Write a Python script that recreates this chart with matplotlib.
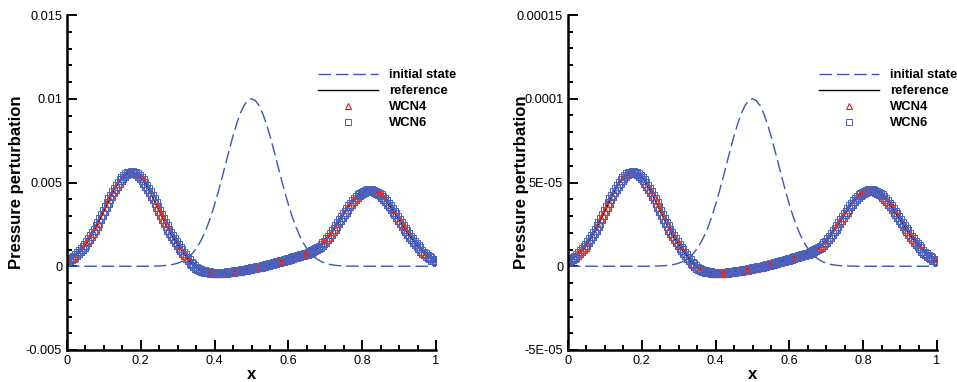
import matplotlib
matplotlib.use("Agg")
import matplotlib.pyplot as plt
import numpy as np
from matplotlib.ticker import FixedLocator, FixedFormatter, MultipleLocator

plt.rcParams["font.family"] = ["Liberation Sans", "DejaVu Sans"]

# ---------------------------------------------------------------- data
# final pressure perturbation (left panel units), x = 0 .. 1 step 0.005
# reference, WCN4 and WCN6 coincide in the picture
p_final = [
    0.000312, 0.000367, 0.000430, 0.000501, 0.000581, 0.000672, 0.000772, 0.000883, 0.001005, 0.001139,
    0.001284, 0.001441, 0.001610, 0.001790, 0.001981, 0.002182, 0.002392, 0.002610, 0.002834, 0.003063,
    0.003296, 0.003529, 0.003760, 0.003988, 0.004211, 0.004425, 0.004627, 0.004816, 0.004989, 0.005145,
    0.005280, 0.005393, 0.005482, 0.005547, 0.005587, 0.005600, 0.005587, 0.005547, 0.005482, 0.005393,
    0.005280, 0.005145, 0.004989, 0.004816, 0.004627, 0.004425, 0.004211, 0.003988, 0.003760, 0.003529,
    0.003296, 0.003063, 0.002834, 0.002610, 0.002392, 0.002182, 0.001981, 0.001790, 0.001610, 0.001441,
    0.001284, 0.001119, 0.000955, 0.000803, 0.000642, 0.000492, 0.000351, 0.000221, 0.000110, 0.000007,
    -0.000078, -0.000146, -0.000208, -0.000254, -0.000294, -0.000331, -0.000354, -0.000372, -0.000388, -0.000401,
    -0.000413, -0.000412, -0.000409, -0.000405, -0.000400, -0.000394, -0.000378, -0.000370, -0.000352, -0.000343,
    -0.000325, -0.000306, -0.000296, -0.000277, -0.000258, -0.000238, -0.000218, -0.000198, -0.000168, -0.000148,
    -0.000128, -0.000108, -0.000078, -0.000058, -0.000038, -0.000018, 0.000007, 0.000038, 0.000060, 0.000092,
    0.000115, 0.000149, 0.000173, 0.000208, 0.000234, 0.000272, 0.000300, 0.000330, 0.000362, 0.000396,
    0.000433, 0.000462, 0.000493, 0.000529, 0.000558, 0.000591, 0.000619, 0.000651, 0.000679, 0.000712,
    0.000752, 0.000799, 0.000852, 0.000902, 0.000960, 0.001025, 0.001098, 0.001179, 0.001269, 0.001365,
    0.001470, 0.001612, 0.001760, 0.001915, 0.002075, 0.002239, 0.002408, 0.002578, 0.002750, 0.002922,
    0.003093, 0.003261, 0.003424, 0.003582, 0.003733, 0.003874, 0.004005, 0.004125, 0.004231, 0.004323,
    0.004400, 0.004461, 0.004505, 0.004531, 0.004540, 0.004531, 0.004505, 0.004461, 0.004400, 0.004323,
    0.004231, 0.004125, 0.004005, 0.003874, 0.003733, 0.003582, 0.003424, 0.003261, 0.003093, 0.002922,
    0.002750, 0.002578, 0.002408, 0.002239, 0.002075, 0.001915, 0.001760, 0.001612, 0.001470, 0.001335,
    0.001209, 0.001089, 0.000930, 0.000820, 0.000720, 0.000630, 0.000550, 0.000470, 0.000400, 0.000350,
    0.000300,
]
x_final = np.linspace(0.0, 1.0, len(p_final))

# initial pulse, x = 0 .. 1 step 0.01
p_initial = [0.0] * 20 + [
    0.000001, 0.000002, 0.000004, 0.000007, 0.000012, 0.000019, 0.000032, 0.000050, 0.000079, 0.000122,
    0.000183, 0.000271, 0.000392, 0.000556, 0.000773, 0.001054, 0.001409, 0.001845, 0.002369, 0.002982,
    0.003679, 0.004449, 0.005273, 0.006126, 0.006977, 0.007788, 0.008521, 0.009139, 0.009608, 0.009900,
    0.010000,
    0.009900, 0.009608, 0.009139, 0.008521, 0.007788, 0.006977, 0.006126, 0.005273, 0.004449, 0.003679,
    0.002982, 0.002369, 0.001845, 0.001409, 0.001054, 0.000773, 0.000556, 0.000392, 0.000271, 0.000183,
    0.000122, 0.000079, 0.000050, 0.000032, 0.000019, 0.000012, 0.000007, 0.000004, 0.000002, 0.000001,
] + [0.0] * 20
x_initial = np.linspace(0.0, 1.0, len(p_initial))

# amplitude of each panel (right panel is the same case at 1/100 amplitude)
panel_amp = [1.0, 0.01]
y_ticks = [[-0.005, 0.0, 0.005, 0.01, 0.015], [-5e-05, 0.0, 5e-05, 0.0001, 0.00015]]
y_ticklabels = [["-0.005", "0", "0.005", "0.01", "0.015"],
                ["-5E-05", "0", "5E-05", "0.0001", "0.00015"]]
x_ticks = [0.0, 0.2, 0.4, 0.6, 0.8, 1.0]
x_ticklabels = ["0", "0.2", "0.4", "0.6", "0.8", "1"]

# ---------------------------------------------------------------- figure
fig = plt.figure(figsize=(9.57, 3.82), dpi=100)
lefts = [67 / 957, 568 / 957]
ylabel_x = [-0.117, -0.106]

for k in range(2):
    ax = fig.add_axes([lefts[k], 32 / 382, 369 / 957, 335 / 382])
    a = panel_amp[k]
    pf = np.array(p_final) * a
    pi = np.array(p_initial) * a

    ax.plot(x_initial, pi, color="#3a56b8", lw=1.0, dashes=(9, 3.5),
            label="initial state")
    ax.plot(x_final, pf, color="black", lw=1.0, label="reference")
    ax.plot(x_final, pf, ls="none", marker="^", ms=6.4, mfc="none",
            mec="#e02020", mew=0.8, label="WCN4")
    ax.plot(x_final, pf, ls="none", marker="s", ms=5.2, mfc="none",
            mec="#4a62bc", mew=0.7, label="WCN6")

    ax.set_xlim(0, 1)
    ax.set_ylim(y_ticks[k][0], y_ticks[k][-1])
    ax.xaxis.set_major_locator(FixedLocator(x_ticks))
    ax.xaxis.set_major_formatter(FixedFormatter(x_ticklabels))
    ax.xaxis.set_minor_locator(MultipleLocator(0.05))
    ax.yaxis.set_major_locator(FixedLocator(y_ticks[k]))
    ax.yaxis.set_major_formatter(FixedFormatter(y_ticklabels[k]))
    ax.yaxis.set_minor_locator(MultipleLocator((y_ticks[k][2] - y_ticks[k][1]) / 5))

    for s in ("top", "right"):
        ax.spines[s].set_visible(False)
    for s in ("left", "bottom"):
        ax.spines[s].set_linewidth(1.8)
    ax.tick_params(which="both", direction="in", width=1.4, labelsize=9.2)
    ax.tick_params(which="major", length=7, pad=3.5)
    ax.tick_params(which="minor", length=3.8)

    ax.set_xlabel("x", fontsize=12, fontweight="bold")
    ax.xaxis.set_label_coords(0.5, -0.05)
    ax.set_ylabel("Pressure perturbation", fontsize=12, fontweight="bold")
    ax.yaxis.set_label_coords(ylabel_x[k], 0.5)

    leg = ax.legend(loc="upper left", bbox_to_anchor=(0.681, 0.839), frameon=False,
                    borderpad=0, borderaxespad=0, handlelength=4.6, handletextpad=0.8,
                    labelspacing=0.3, prop={"weight": "bold", "size": 9.4})
    for h in leg.legend_handles[2:]:
        h.set_markersize(4.2)

fig.savefig("out.png", dpi=100)
